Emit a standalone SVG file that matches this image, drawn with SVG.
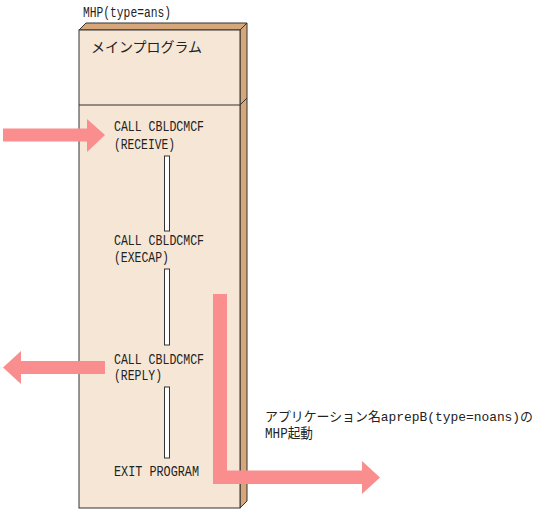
<svg xmlns="http://www.w3.org/2000/svg" width="539" height="512" viewBox="0 0 539 512">
<style>
.t{font-family:"Liberation Mono","Noto Sans CJK JP",monospace;font-size:14px;fill:#222}
.s{font-size:13px}
.face{fill:#F6E6D6;stroke:#333;stroke-width:1}
.side{fill:#D6A77B;stroke:#333;stroke-width:1}
.bar{fill:#fff;stroke:#333;stroke-width:1}
.arr{fill:#FA8E8E}
</style>
<rect width="539" height="512" fill="#fff"/>
<g id="mhp">
<text class="t" x="83" y="17" textLength="88" lengthAdjust="spacingAndGlyphs">MHP(type=ans)</text>
<polygon class="side" points="79,30 86,23 247,23 240,30"/>
<polygon class="side" points="240,30 247,23 247,501 240,508"/>
<rect class="face" x="79" y="30" width="161" height="478"/>
<line x1="79" y1="105" x2="240" y2="105" stroke="#333"/>
<line x1="240" y1="105" x2="247" y2="98" stroke="#333"/>
<text class="t" x="91" y="52" textLength="111" lengthAdjust="spacingAndGlyphs">メインプログラム</text>
</g>
<g id="steps">
<text class="t" x="114" y="131" textLength="90" lengthAdjust="spacingAndGlyphs">CALL CBLDCMCF</text>
<text class="t" x="114" y="149" textLength="61" lengthAdjust="spacingAndGlyphs">(RECEIVE)</text>
<rect class="bar" x="164.5" y="156" width="5" height="75"/>
<text class="t" x="114" y="245" textLength="90" lengthAdjust="spacingAndGlyphs">CALL CBLDCMCF</text>
<text class="t" x="114" y="262" textLength="55" lengthAdjust="spacingAndGlyphs">(EXECAP)</text>
<rect class="bar" x="164.5" y="269" width="5" height="76"/>
<text class="t" x="114" y="364" textLength="90" lengthAdjust="spacingAndGlyphs">CALL CBLDCMCF</text>
<text class="t" x="114" y="380" textLength="48" lengthAdjust="spacingAndGlyphs">(REPLY)</text>
<rect class="bar" x="164.5" y="387" width="5" height="71"/>
<text class="t" x="114" y="476" textLength="85" lengthAdjust="spacingAndGlyphs">EXIT PROGRAM</text>
</g>
<g id="connectors">
<polygon class="arr" points="3,128.5 87,128.5 87,119 105,135 87,152 87,141.5 3,141.5"/>
<polygon class="arr" points="105,361 21,361 21,351 3,367.5 21,384 21,374 105,374"/>
<polygon class="arr" points="213,294 227,294 227,470.5 362,470.5 362,461 380,477.5 362,494 362,484 213,484"/>
</g>
<g id="label">
<text class="t s" x="265" y="421" textLength="268" lengthAdjust="spacingAndGlyphs">アプリケーション名aprepB(type=noans)の</text>
<text class="t" x="265" y="438" textLength="48" lengthAdjust="spacingAndGlyphs">MHP起動</text>
</g>
</svg>
